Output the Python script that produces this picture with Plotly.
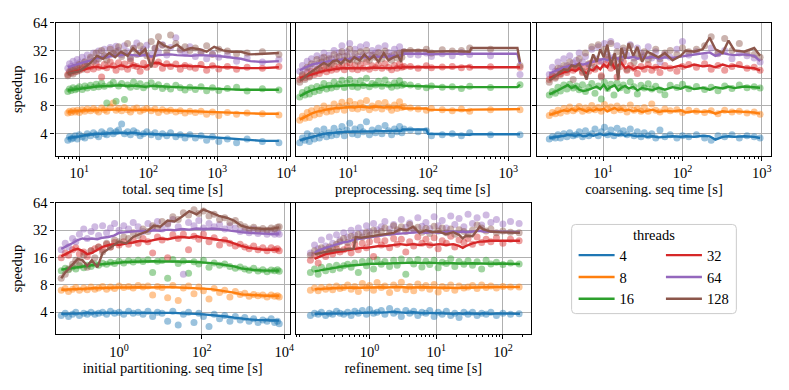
import plotly.graph_objects as go

# ---------------- data ----------------
THREADS = ["4", "8", "16", "32", "64", "128"]
COLORS = ["#1f77b4", "#ff7f0e", "#2ca02c", "#d62728", "#9467bd", "#8c564b"]
Y_TICKS = [4, 8, 16, 32, 64]

# --- total ---
total_x = [6.8, 7.2, 7.6, 8.1, 8.7, 9.3, 10, 11, 12, 13,
           14.5, 16, 17.5, 19, 21, 23, 25, 28, 31, 34,
           37, 41, 45, 50, 55, 61, 68, 76, 85, 95,
           110, 125, 140, 160, 185, 210, 250, 290, 340, 400,
           480, 580, 700, 850, 1050, 1400, 1900, 2700, 4500, 7800]
total_s4 = [3.4, 3.7, 3.5, 3.6, 3.8, 3.5, 3.9, 3.7, 3.6, 4.0,
            3.8, 4.1, 3.9, 3.7, 4.2, 4.0, 3.9, 4.3, 4.0, 4.2,
            4.4, 5.1, 4.0, 4.2, 3.9, 4.3, 4.1, 3.8, 4.0, 4.2,
            3.9, 4.1, 3.7, 4.0, 3.8, 4.1, 3.7, 3.9, 3.6, 3.9,
            3.6, 3.8, 3.4, 3.7, 3.3, 3.5, 3.2, 3.5, 3.3, 3.2]
total_s8 = [6.7, 7.0, 6.8, 7.1, 6.9, 7.2, 6.8, 7.3, 7.0, 7.4,
            7.1, 7.5, 7.2, 6.9, 7.6, 7.3, 7.0, 7.8, 8.6, 7.2,
            7.5, 7.1, 7.7, 7.3, 6.9, 7.4, 7.6, 7.0, 7.3, 7.5,
            7.1, 7.4, 6.8, 7.3, 7.0, 7.2, 6.9, 7.1, 6.7, 7.0,
            6.8, 7.0, 6.5, 6.9, 6.3, 6.8, 6.5, 6.7, 6.6, 6.4]
total_s16 = [11.5, 12.2, 11.8, 12.6, 12.0, 12.4, 12.9, 12.1, 13.2, 12.5,
             13.4, 12.7, 13.8, 12.9, 14.2, 13.1, 8.6, 13.6, 14.5, 9.0,
             13.2, 14.0, 9.4, 13.5, 12.8, 14.6, 13.0, 13.9, 12.6, 13.4,
             14.3, 12.9, 13.6, 12.4, 13.1, 12.2, 13.4, 12.6, 11.9, 12.8,
             12.1, 12.9, 11.7, 12.6, 11.8, 12.4, 12.8, 11.6, 12.3, 11.9]
total_s32 = [17.5, 19.0, 18.2, 20.0, 18.8, 21.0, 19.5, 20.5, 22.0, 19.8,
             21.5, 20.2, 23.0, 21.0, 16.5, 22.5, 20.8, 24.0, 21.8, 19.5,
             23.5, 21.2, 22.8, 20.0, 24.5, 22.0, 21.5, 19.0, 23.2, 21.0,
             25.0, 22.5, 24.0, 20.5, 23.0, 21.5, 22.8, 20.0, 22.0, 21.2,
             20.5, 22.5, 19.5, 21.8, 20.2, 21.5, 20.0, 21.0, 20.5, 21.5]
total_s64 = [20.5, 23.0, 21.5, 24.5, 22.0, 25.5, 23.5, 27.0, 24.5, 28.5,
             26.0, 30.0, 25.0, 31.5, 27.5, 33.0, 28.0, 34.5, 30.0, 35.5,
             32.0, 29.0, 36.0, 31.0, 27.0, 34.0, 38.5, 30.5, 33.0, 36.5,
             29.0, 33.5, 31.0, 37.0, 28.5, 34.5, 44.0, 32.0, 30.0, 35.0,
             27.5, 31.0, 26.0, 29.5, 27.0, 28.5, 24.5, 26.5, 24.0, 25.5]
total_s128 = [17.0, 18.5, 19.5, 17.8, 21.0, 19.0, 22.5, 20.0, 24.0, 22.0,
              27.0, 24.5, 30.0, 26.0, 32.0, 28.0, 25.0, 33.0, 29.5, 31.0,
              35.0, 27.5, 30.5, 38.0, 26.0, 33.5, 29.0, 36.0, 31.5, 28.0,
              40.0, 34.0, 45.0, 36.5, 31.0, 47.0, 38.0, 33.0, 35.0, 32.0,
              34.0, 30.5, 36.0, 29.0, 33.0, 31.5, 29.5, 30.0, 31.0, 29.0]
total_lx = [6.8, 8, 10, 12, 15, 18, 22, 27, 33, 40,
            50, 60, 75, 90, 110, 140, 170, 210, 260, 330,
            420, 550, 700, 900, 1200, 1600, 2200, 3000, 4500, 7800]
total_l4 = [3.6, 3.65, 3.75, 3.85, 3.95, 4.0, 4.0, 4.05, 4.1, 4.1,
            4.05, 4.1, 4.0, 4.0, 3.95, 3.95, 3.9, 3.9, 3.85, 3.85,
            3.8, 3.75, 3.7, 3.6, 3.55, 3.5, 3.45, 3.4, 3.35, 3.35]
total_l8 = [6.9, 7.0, 7.1, 7.2, 7.2, 7.25, 7.3, 7.3, 7.3, 7.35,
            7.3, 7.3, 7.25, 7.3, 7.2, 7.25, 7.2, 7.15, 7.1, 7.1,
            7.05, 7.0, 6.95, 6.9, 6.8, 6.75, 6.7, 6.65, 6.6, 6.6]
total_l16 = [11.8, 12.0, 12.3, 12.5, 12.8, 13.0, 13.1, 13.2, 13.3, 13.4,
             13.2, 13.3, 13.1, 12.9, 13.2, 13.2, 13.0, 12.9, 12.8, 12.6,
             12.6, 12.5, 12.4, 12.3, 12.2, 12.1, 12.0, 12.0, 12.0, 12.0]
total_l32 = [18.0, 18.5, 19.5, 20.0, 21.0, 21.2, 20.5, 21.5, 21.0, 22.0,
             21.0, 22.2, 21.5, 21.0, 23.0, 23.5, 22.0, 22.2, 21.5, 22.0,
             21.5, 21.6, 21.0, 21.5, 21.0, 21.0, 20.6, 20.6, 20.6, 21.0]
total_l64 = [21.0, 22.0, 23.0, 24.0, 25.0, 26.5, 27.0, 28.0, 28.0, 28.5,
             29.0, 28.5, 28.0, 28.5, 27.5, 28.5, 29.0, 29.0, 28.5, 28.0,
             28.0, 28.5, 28.0, 28.0, 27.5, 27.0, 26.0, 24.5, 24.0, 24.5]
total_l128 = [18.0, 18.5, 19.0, 21.0, 24.0, 28.0, 26.0, 30.0, 27.0, 31.0,
              28.0, 34.0, 29.0, 33.0, 21.0, 40.0, 36.0, 34.0, 37.0, 32.0,
              34.0, 33.0, 31.0, 35.0, 32.0, 31.0, 31.0, 29.0, 29.5, 30.0]

# --- preprocessing ---
prep_x = [2.5, 2.7, 2.9, 3.1, 3.3, 3.5, 3.8, 4.1, 4.4, 4.7,
          5.0, 5.4, 5.8, 6.2, 6.7, 7.2, 7.8, 8.4, 9.0, 9.7,
          10.5, 11.3, 12.2, 13.2, 14.3, 15.5, 17, 18.5, 20, 22,
          24, 26.5, 29, 32, 35, 38, 41, 44, 47, 50,
          60, 75, 95, 110, 150, 200, 260, 330, 600, 1400]
prep_s4 = [3.2, 3.6, 3.4, 4.0, 3.3, 3.8, 3.5, 4.3, 3.6, 3.9,
           4.5, 3.7, 4.1, 3.8, 4.6, 3.9, 4.2, 4.8, 3.8, 4.4,
           5.2, 4.0, 4.5, 3.9, 4.7, 4.2, 5.4, 3.9, 4.4, 4.1,
           4.6, 4.0, 4.9, 4.3, 3.9, 4.5, 4.2, 4.8, 4.1, 4.5,
           4.4, 4.2, 4.3, 3.8, 3.9, 4.0, 3.8, 4.1, 3.9, 3.9]
prep_s8 = [5.6, 6.2, 5.9, 6.8, 6.0, 7.1, 6.4, 7.5, 6.6, 7.2,
           8.0, 6.9, 7.6, 7.0, 8.4, 7.3, 7.9, 8.8, 7.2, 8.1,
           9.0, 7.5, 8.3, 7.4, 8.6, 7.7, 9.2, 7.3, 8.0, 7.6,
           8.5, 7.4, 8.7, 7.8, 7.2, 8.2, 7.5, 8.9, 7.7, 7.9,
           7.6, 7.4, 7.2, 7.5, 7.3, 7.1, 7.4, 7.0, 7.3, 7.3]
prep_s16 = [10.0, 11.2, 10.5, 12.0, 10.8, 12.5, 11.4, 13.0, 11.8, 12.6,
            14.0, 12.2, 13.4, 12.5, 14.6, 12.9, 13.8, 15.2, 12.7, 14.2,
            15.5, 13.0, 14.4, 12.8, 15.0, 13.3, 16.0, 12.9, 14.0, 13.5,
            14.8, 13.1, 15.3, 13.6, 12.8, 14.3, 13.2, 15.0, 13.4, 13.8,
            13.5, 13.0, 12.6, 13.2, 12.8, 12.9, 12.4, 13.1, 12.7, 13.6]
prep_s32 = [15.5, 17.0, 16.2, 18.5, 16.8, 19.0, 17.5, 20.0, 18.0, 19.5,
            21.5, 18.8, 20.5, 19.5, 22.0, 20.0, 21.0, 23.0, 19.8, 21.5,
            23.5, 20.2, 22.0, 19.8, 22.5, 20.5, 24.0, 20.0, 21.8, 20.8,
            22.5, 20.5, 23.0, 21.0, 19.8, 22.0, 20.5, 22.8, 21.0, 21.5,
            21.5, 20.5, 21.8, 20.8, 21.2, 21.5, 20.8, 21.0, 21.3, 21.0]
prep_s64 = [19.0, 22.0, 20.0, 24.5, 21.0, 26.0, 22.5, 28.0, 23.5, 26.5,
            30.0, 25.0, 28.5, 26.0, 32.0, 27.0, 30.5, 36.0, 27.5, 31.0,
            38.0, 28.0, 33.0, 27.5, 35.0, 29.0, 37.0, 28.5, 32.0, 30.0,
            34.0, 29.0, 36.0, 30.5, 28.0, 33.0, 29.5, 35.0, 30.0, 31.0,
            29.0, 28.5, 30.0, 27.5, 29.5, 28.0, 30.5, 29.0, 28.0, 17.5]
prep_s128 = [14.5, 17.5, 15.5, 21.0, 16.5, 23.0, 18.5, 25.5, 20.0, 24.0,
             27.0, 22.0, 26.0, 23.0, 29.0, 24.5, 27.5, 31.0, 25.0, 28.0,
             33.0, 25.5, 29.5, 24.5, 31.0, 26.0, 32.0, 25.0, 28.5, 27.0,
             30.5, 26.0, 31.5, 27.5, 25.0, 29.0, 26.5, 30.0, 27.0, 31.0,
             32.0, 31.0, 33.0, 30.0, 32.5, 31.5, 32.0, 34.0, 33.0, 22.0]
prep_lx = [2.5, 2.8, 3.1, 3.5, 4.0, 4.5, 5.0, 5.7, 6.5, 7.3,
           8.2, 9.2, 10.5, 12, 14, 16, 18.5, 21, 24, 28,
           32, 37, 42, 46, 48, 95, 100, 200, 330, 345, 1300, 1400]
prep_l4 = [3.4, 3.5, 3.6, 3.7, 3.8, 3.9, 4.0, 4.05, 4.1, 4.15,
           4.2, 4.2, 4.2, 4.2, 4.2, 4.25, 4.2, 4.25, 4.3, 4.25,
           4.3, 4.3, 4.35, 4.3, 4.45, 4.45, 4.0, 3.9, 3.9, 3.95, 3.95, 3.95]
prep_l8 = [5.7, 6.0, 6.3, 6.6, 6.9, 7.1, 7.3, 7.4, 7.5, 7.6,
           7.7, 7.8, 7.8, 7.7, 7.9, 7.8, 7.7, 7.9, 7.8, 7.7,
           7.8, 7.7, 7.8, 7.7, 7.5, 7.5, 7.3, 7.2, 7.2, 7.3, 7.3, 7.4]
prep_l16 = [10.2, 10.8, 11.3, 11.8, 12.2, 12.5, 12.8, 13.0, 13.1, 13.2,
            13.3, 13.4, 13.3, 13.5, 13.4, 13.6, 13.3, 13.5, 13.4, 13.5,
            13.3, 13.5, 13.4, 13.6, 13.3, 13.2, 13.0, 12.8, 12.7, 12.8, 12.8, 13.6]
prep_l32 = [16.0, 16.5, 17.0, 17.6, 18.2, 18.8, 19.2, 19.6, 20.0, 20.2,
            20.5, 20.5, 20.6, 20.4, 20.8, 20.6, 20.5, 20.9, 20.7, 20.6,
            20.8, 20.6, 21.0, 20.7, 21.2, 21.2, 21.4, 21.0, 21.5, 21.0, 21.0, 21.0]
prep_l64 = [19.5, 20.5, 21.5, 22.5, 23.0, 23.5, 24.0, 24.5, 25.0, 25.0,
            25.5, 25.5, 26.0, 26.5, 27.0, 27.0, 27.0, 27.5, 27.5, 27.0,
            27.5, 28.0, 27.5, 28.0, 29.5, 29.5, 29.0, 29.5, 29.5, 29.5, 29.5, 23.0]
prep_l128 = [15.0, 16.0, 17.5, 19.0, 20.5, 22.0, 23.5, 22.0, 24.5, 25.0,
             23.0, 26.0, 24.0, 27.0, 25.0, 29.0, 25.5, 28.0, 24.0, 30.0,
             25.0, 27.0, 28.0, 24.0, 32.0, 32.0, 31.0, 31.5, 31.0, 34.0, 34.0, 24.0]

# --- coarsening ---
coar_x = [2.1, 2.3, 2.5, 2.7, 2.9, 3.2, 3.5, 3.8, 4.2, 4.6,
          5.0, 5.5, 6.0, 6.6, 7.2, 7.9, 8.7, 9.5, 10.4, 11.4,
          12.5, 13.7, 15, 16.5, 18, 20, 22, 24.5, 27, 30,
          33, 37, 41, 46, 52, 60, 70, 85, 100, 120,
          150, 190, 230, 280, 340, 420, 520, 650, 800, 950]
coar_s4 = [3.5, 3.7, 3.6, 3.9, 3.6, 4.0, 3.7, 4.1, 3.8, 3.9,
           4.2, 3.7, 4.3, 3.8, 4.0, 4.5, 3.8, 4.2, 4.7, 3.9,
           4.4, 3.8, 4.6, 4.0, 4.3, 3.9, 4.5, 3.8, 4.2, 3.7,
           4.1, 3.8, 4.0, 3.6, 4.4, 3.7, 3.9, 3.6, 3.8, 3.7,
           3.9, 3.6, 3.4, 3.8, 3.7, 3.9, 3.6, 3.8, 3.7, 3.6]
coar_s8 = [6.3, 6.8, 6.6, 7.2, 6.7, 7.5, 7.0, 7.8, 7.1, 7.4,
           7.9, 7.0, 7.6, 7.2, 8.1, 7.3, 7.7, 7.0, 8.3, 7.4,
           7.8, 7.1, 8.0, 7.3, 7.6, 6.9, 8.2, 7.2, 7.5, 7.0,
           7.7, 7.0, 8.4, 7.2, 6.9, 7.4, 7.1, 7.3, 6.8, 7.2,
           7.0, 6.8, 7.1, 6.6, 7.2, 6.9, 7.0, 6.7, 6.9, 6.5]
coar_s16 = [10.5, 11.5, 11.0, 12.8, 11.6, 13.5, 12.2, 13.8, 12.5, 13.2,
            12.0, 13.6, 11.5, 12.8, 14.0, 11.0, 13.2, 9.5, 14.5, 12.4,
            13.8, 10.5, 14.2, 12.6, 13.5, 11.8, 14.6, 12.9, 10.8, 13.4,
            12.5, 13.9, 12.2, 13.1, 11.9, 10.6, 13.4, 12.7, 13.8, 12.3,
            13.0, 12.1, 12.8, 11.7, 13.2, 12.4, 13.5, 12.6, 12.9, 12.5]
coar_s32 = [15.5, 17.0, 16.5, 19.0, 17.5, 20.0, 18.5, 21.0, 19.5, 20.5,
            22.0, 18.5, 21.5, 19.0, 23.5, 20.0, 24.5, 17.0, 22.5, 25.5,
            20.5, 23.0, 16.5, 21.5, 24.0, 19.5, 22.0, 20.5, 18.0, 21.5,
            20.0, 22.5, 19.5, 21.0, 18.5, 22.0, 20.5, 19.0, 21.5, 22.5,
            21.0, 23.0, 20.0, 22.0, 19.5, 21.5, 22.5, 20.5, 21.0, 19.5]
coar_s64 = [17.5, 21.0, 19.0, 24.0, 20.5, 26.0, 22.0, 28.0, 23.5, 25.0,
            30.0, 24.0, 27.5, 22.5, 33.0, 26.0, 35.0, 24.5, 38.0, 29.0,
            40.0, 27.0, 36.0, 25.0, 32.0, 28.5, 37.0, 26.5, 34.0, 30.0,
            28.0, 35.0, 26.5, 31.0, 24.0, 29.0, 27.0, 33.0, 40.0, 28.5,
            31.0, 27.5, 34.0, 29.5, 32.0, 26.0, 30.0, 28.0, 26.5, 24.0]
coar_s128 = [14.5, 17.0, 16.0, 20.5, 18.0, 22.0, 19.5, 24.0, 15.5, 21.0,
             26.0, 19.0, 30.0, 23.0, 35.0, 21.0, 37.0, 16.5, 33.0, 27.0,
             38.0, 22.0, 31.0, 26.0, 34.0, 20.0, 36.0, 24.0, 29.0, 27.0,
             31.0, 25.5, 28.0, 33.0, 26.0, 30.0, 32.0, 29.0, 34.0, 31.0,
             33.0, 36.0, 45.0, 30.0, 43.0, 32.0, 38.0, 30.0, 29.0, 27.0]
coar_lx = [2.1, 2.4, 2.8, 3.2, 3.6, 4.0, 4.5, 5.0, 5.6, 6.2,
           6.8, 7.5, 8.3, 9.2, 10.2, 11.3, 12.5, 14, 15.5, 17,
           19, 21, 24, 27, 31, 36, 42, 50, 60, 75,
           95, 110, 140, 180, 220, 260, 320, 380, 450, 600, 800, 950]
coar_l4 = [3.6, 3.65, 3.7, 3.8, 3.9, 3.85, 3.8, 3.9, 3.75, 3.8,
           3.95, 3.8, 3.9, 4.0, 3.85, 3.95, 4.0, 3.9, 3.85, 3.95,
           3.8, 3.9, 3.85, 3.75, 3.8, 3.7, 3.75, 3.65, 3.7, 3.75,
           3.7, 3.75, 3.7, 3.8, 3.75, 3.45, 3.7, 3.75, 3.7, 3.75, 3.7, 3.6]
coar_l8 = [6.4, 6.6, 6.9, 7.2, 7.0, 7.4, 7.1, 7.5, 7.2, 7.0,
           7.3, 7.1, 7.4, 7.2, 7.5, 7.0, 7.3, 7.6, 7.2, 7.4,
           7.1, 7.3, 7.0, 7.2, 6.9, 7.1, 7.3, 6.9, 7.1, 7.0,
           7.2, 6.8, 7.0, 6.9, 7.0, 6.6, 7.0, 6.9, 7.0, 6.9, 6.8, 6.6]
coar_l16 = [10.7, 11.2, 12.0, 12.8, 13.5, 12.5, 13.2, 12.0, 11.6, 11.8,
            12.2, 12.6, 13.0, 12.2, 13.6, 12.0, 12.8, 13.4, 11.8, 12.6,
            13.2, 12.4, 12.9, 11.8, 12.5, 12.2, 11.9, 12.6, 12.0, 12.8,
            12.3, 13.0, 12.2, 12.6, 12.0, 12.8, 12.4, 13.0, 12.5, 13.0, 12.8, 12.6]
coar_l32 = [16.0, 16.8, 17.5, 18.5, 19.0, 19.8, 19.2, 20.5, 19.0, 18.0,
            20.0, 19.5, 21.5, 20.0, 22.5, 21.0, 25.0, 20.5, 22.0, 23.5,
            20.5, 21.5, 20.0, 21.0, 20.5, 21.5, 20.8, 21.2, 20.5, 21.0,
            22.0, 21.0, 22.5, 21.5, 22.0, 21.0, 22.5, 21.5, 22.0, 21.0, 20.5, 19.5]
coar_l64 = [18.0, 19.0, 20.0, 21.0, 21.5, 22.0, 22.5, 23.0, 22.5, 23.0,
            23.5, 24.0, 24.5, 25.0, 26.0, 25.0, 26.5, 27.0, 26.0, 27.5,
            27.0, 26.5, 27.5, 26.0, 27.0, 26.5, 27.5, 26.0, 27.0, 26.5,
            27.5, 28.0, 29.0, 30.0, 30.5, 28.0, 30.0, 29.0, 28.5, 29.0, 28.0, 24.5]
coar_l128 = [15.0, 16.5, 18.0, 20.0, 19.5, 22.0, 21.5, 23.0, 19.0, 15.5,
             22.0, 29.0, 24.0, 33.0, 27.0, 37.0, 22.0, 30.0, 15.5, 34.0,
             26.0, 38.0, 28.0, 35.0, 24.0, 31.0, 29.0, 27.0, 30.0, 25.0,
             28.0, 32.0, 31.0, 33.0, 44.0, 33.0, 30.0, 41.0, 32.0, 31.0, 34.0, 28.0]

# --- initial partitioning ---
ip_x = [0.04, 0.05, 0.06, 0.075, 0.09, 0.11, 0.14, 0.17, 0.21, 0.26,
        0.32, 0.4, 0.5, 0.62, 0.78, 1.0, 1.3, 1.7, 2.2, 2.9,
        3.8, 5, 6.5, 8.5, 11, 15, 20, 27, 36, 48,
        65, 85, 110, 150, 200, 270, 360, 480, 650, 850,
        1100, 1400, 1800, 2300, 3000, 3800, 4800, 5800, 6800, 7500]
ip_s4 = [3.7, 3.9, 3.6, 3.8, 4.0, 3.7, 3.9, 3.8, 4.0, 3.8,
         3.9, 4.0, 3.8, 4.1, 3.9, 4.0, 3.8, 4.1, 3.9, 4.0,
         3.8, 4.1, 3.6, 4.0, 3.9, 3.2, 4.1, 2.9, 3.8, 4.0,
         3.1, 3.9, 3.6, 2.8, 3.8, 3.4, 3.7, 3.2, 3.6, 3.3,
         3.5, 3.2, 3.4, 3.1, 3.3, 3.2, 3.4, 3.1, 3.2, 3.0]
ip_s8 = [7.0, 7.3, 6.8, 7.2, 7.5, 7.0, 7.4, 7.1, 7.6, 7.2,
         7.4, 7.7, 7.2, 7.6, 7.3, 7.8, 7.5, 7.7, 7.4, 7.9,
         7.6, 7.8, 6.2, 7.7, 7.5, 5.8, 7.9, 5.4, 7.4, 7.8,
         6.4, 7.6, 6.9, 5.6, 7.3, 6.6, 7.0, 5.9, 6.8, 6.3,
         6.5, 6.0, 6.3, 6.1, 6.2, 5.9, 6.2, 6.0, 6.1, 5.9]
ip_s16 = [11.5, 12.2, 11.8, 12.6, 12.0, 13.0, 12.4, 13.2, 12.8, 13.6,
          13.2, 13.9, 13.5, 14.2, 13.8, 14.6, 14.0, 14.8, 14.3, 15.0,
          14.5, 15.2, 11.0, 14.6, 14.9, 9.5, 15.3, 13.8, 14.7, 10.8,
          14.4, 13.6, 15.0, 12.5, 14.0, 13.2, 13.6, 12.8, 12.2, 12.6,
          12.0, 11.6, 12.2, 11.4, 11.8, 11.2, 11.7, 11.5, 11.8, 11.3]
ip_s32 = [16.0, 18.0, 17.0, 19.5, 20.5, 17.5, 18.5, 16.5, 19.0, 20.0,
          21.0, 19.5, 22.5, 21.0, 23.5, 22.0, 24.0, 22.5, 25.0, 23.0,
          26.0, 24.0, 18.0, 27.0, 25.0, 16.0, 28.5, 26.0, 29.0, 19.5,
          27.5, 25.5, 29.0, 24.0, 26.5, 22.0, 25.0, 23.0, 21.5, 22.5,
          21.0, 20.0, 21.5, 19.5, 20.5, 19.0, 20.5, 19.5, 20.0, 19.0]
ip_s64 = [19.5, 23.0, 21.0, 26.0, 24.0, 29.0, 33.0, 26.0, 31.0, 35.0,
          28.0, 36.0, 30.0, 34.0, 38.0, 32.0, 36.0, 33.0, 39.0, 35.0,
          31.0, 38.0, 34.0, 40.0, 33.0, 37.0, 42.0, 35.0, 10.5, 39.0,
          36.0, 41.0, 34.0, 38.0, 35.0, 37.0, 33.0, 36.0, 34.0, 31.0,
          32.0, 30.0, 33.0, 29.5, 31.0, 29.0, 30.5, 29.0, 30.0, 29.0]
ip_s128 = [9.5, 10.5, 12.0, 13.5, 15.0, 14.0, 17.0, 12.5, 19.0, 16.0,
           21.0, 18.5, 23.0, 21.0, 25.0, 24.0, 27.0, 26.0, 30.0, 28.0,
           33.0, 31.0, 36.0, 34.0, 40.0, 38.0, 45.0, 42.0, 50.0, 47.0,
           54.0, 49.0, 52.0, 46.0, 48.0, 42.0, 44.0, 39.0, 41.0, 37.0,
           35.0, 33.0, 34.5, 32.5, 33.5, 32.0, 34.0, 33.0, 34.5, 35.0]
ip_lx = [0.04, 0.05, 0.065, 0.08, 0.1, 0.13, 0.17, 0.22, 0.3, 0.4,
         0.55, 0.75, 1.0, 1.5, 2.2, 3.2, 4.7, 7, 10, 15,
         22, 33, 50, 75, 110, 170, 260, 400, 600, 900, 1400, 2200, 3500, 5500, 7500]
ip_l4 = [3.85, 3.85, 3.9, 3.9, 3.9, 3.9, 3.95, 3.9, 3.95, 3.95,
         3.95, 4.0, 3.95, 4.0, 4.0, 4.0, 3.95, 4.0, 4.0, 3.95,
         3.95, 3.9, 3.9, 3.85, 3.8, 3.75, 3.7, 3.6, 3.5, 3.4, 3.35, 3.3, 3.25, 3.25, 3.25]
ip_l8 = [7.1, 7.15, 7.2, 7.2, 7.25, 7.3, 7.3, 7.35, 7.4, 7.4,
         7.4, 7.45, 7.5, 7.5, 7.55, 7.55, 7.5, 7.6, 7.55, 7.6,
         7.55, 7.5, 7.5, 7.45, 7.3, 7.2, 7.0, 6.8, 6.6, 6.3, 6.2, 6.15, 6.1, 6.1, 6.1]
ip_l16 = [11.8, 12.0, 12.2, 12.4, 12.6, 12.8, 13.0, 13.2, 13.4, 13.6,
          13.8, 14.0, 14.2, 14.3, 14.4, 14.5, 14.5, 14.6, 14.5, 14.6,
          14.5, 14.4, 14.5, 14.3, 14.2, 13.9, 13.6, 13.2, 12.8, 12.2, 11.8, 11.6, 11.5, 11.5, 11.5]
ip_l32 = [16.5, 17.5, 18.5, 19.5, 20.0, 19.0, 17.5, 18.0, 19.5, 21.0,
          22.0, 22.5, 22.0, 23.0, 23.5, 24.5, 24.0, 25.0, 26.0, 25.5,
          26.5, 27.0, 26.5, 27.5, 26.5, 26.0, 25.0, 24.5, 23.0, 21.5, 20.5, 20.0, 19.5, 19.5, 19.8]
ip_l64 = [20.0, 21.0, 22.0, 23.5, 25.0, 26.0, 25.5, 26.0, 25.5, 26.5,
          27.0, 28.0, 30.0, 30.5, 31.0, 31.5, 31.0, 32.0, 31.5, 32.5,
          32.0, 33.0, 32.5, 33.5, 33.0, 33.5, 33.0, 32.0, 31.5, 30.5, 30.0, 29.5, 29.0, 29.0, 29.5]
ip_l128 = [9.5, 11.0, 12.5, 14.0, 15.5, 15.0, 13.0, 15.0, 12.5, 18.0,
           20.0, 22.0, 24.0, 23.0, 27.0, 29.0, 31.0, 36.0, 35.0, 41.0,
           40.0, 45.0, 52.0, 48.0, 54.0, 50.0, 46.0, 44.0, 41.0, 36.0, 34.0, 33.5, 33.0, 33.5, 34.5]

# --- refinement ---
ref_x = [0.13, 0.15, 0.17, 0.19, 0.22, 0.25, 0.28, 0.32, 0.36, 0.41,
         0.47, 0.53, 0.6, 0.68, 0.78, 0.9, 1.0, 1.15, 1.3, 1.5,
         1.7, 2.0, 2.3, 2.6, 3.0, 3.5, 4.0, 4.6, 5.3, 6.1,
         7.0, 8.0, 9.3, 10.7, 12.3, 14.2, 16.5, 19, 22, 26,
         30, 35, 41, 48, 56, 66, 80, 100, 130, 175]
ref_s4 = [3.7, 3.9, 3.8, 4.0, 3.7, 3.9, 3.8, 4.1, 3.9, 3.8,
          4.0, 3.7, 4.1, 3.9, 4.2, 3.8, 4.3, 3.9, 4.0, 4.2,
          3.8, 4.4, 3.9, 4.1, 3.6, 4.2, 3.9, 4.1, 3.7, 4.0,
          3.9, 4.2, 3.6, 4.0, 3.8, 4.1, 3.7, 3.9, 3.5, 4.0,
          3.8, 4.0, 3.7, 3.9, 3.8, 4.0, 3.7, 3.9, 3.8, 3.85]
ref_s8 = [7.0, 7.4, 6.9, 7.5, 7.2, 7.6, 7.1, 7.8, 7.3, 7.5,
          8.0, 7.2, 7.7, 6.8, 8.3, 7.4, 7.9, 7.0, 8.5, 7.5,
          7.8, 6.6, 8.0, 7.3, 8.6, 7.1, 7.7, 6.9, 8.2, 7.4,
          7.9, 7.2, 8.1, 6.7, 7.7, 7.3, 8.0, 7.0, 7.8, 7.4,
          7.6, 7.9, 7.3, 8.0, 7.5, 7.8, 7.4, 7.7, 7.6, 7.6]
ref_s16 = [11.0, 12.0, 10.5, 12.5, 11.5, 12.8, 11.8, 13.2, 12.2, 13.0,
           13.5, 12.5, 14.0, 11.0, 14.5, 13.0, 14.8, 12.0, 15.2, 13.5,
           14.5, 12.8, 15.0, 13.2, 15.5, 10.5, 14.8, 13.6, 15.3, 12.6,
           14.6, 13.4, 15.0, 12.4, 14.2, 13.8, 15.6, 12.8, 14.5, 13.5,
           14.8, 13.2, 14.4, 12.0, 15.0, 13.6, 14.2, 13.4, 14.0, 13.6]
ref_s32 = [15.0, 17.0, 14.0, 18.0, 16.5, 19.0, 17.5, 20.0, 18.5, 19.5,
           21.0, 18.0, 22.5, 19.5, 23.0, 20.5, 24.0, 16.5, 25.0, 22.0,
           24.5, 20.5, 26.0, 22.5, 25.5, 18.5, 24.0, 21.5, 27.0, 23.0,
           25.5, 22.0, 26.5, 20.0, 24.5, 23.0, 27.5, 21.0, 25.0, 23.5,
           26.0, 22.5, 27.0, 23.5, 25.5, 24.0, 26.5, 23.0, 25.5, 24.5]
ref_s64 = [18.0, 22.0, 20.0, 25.0, 21.5, 27.0, 23.0, 28.5, 25.0, 30.0,
           27.0, 32.0, 28.5, 34.0, 30.0, 36.0, 31.0, 38.0, 32.5, 35.0,
           40.0, 33.0, 37.0, 31.5, 42.0, 34.5, 38.5, 32.0, 44.0, 35.5,
           39.0, 33.5, 45.0, 36.0, 41.0, 34.0, 46.0, 37.0, 43.0, 35.0,
           48.0, 38.0, 44.0, 36.5, 47.0, 39.0, 42.0, 37.5, 40.0, 38.0]
ref_s128 = [17.0, 19.0, 18.0, 20.5, 19.5, 21.0, 20.0, 22.5, 24.0, 26.0,
            23.5, 27.5, 25.0, 29.0, 27.0, 30.5, 28.0, 32.0, 29.5, 31.0,
            34.0, 30.0, 36.0, 32.5, 35.0, 31.0, 37.0, 33.0, 34.5, 30.5,
            33.5, 29.5, 35.5, 31.5, 34.0, 30.0, 33.0, 29.0, 32.5, 31.0,
            28.5, 32.0, 36.5, 34.0, 31.5, 33.0, 30.0, 31.5, 30.5, 30.0]
ref_lx = [0.15, 0.18, 0.22, 0.27, 0.33, 0.4, 0.48, 0.58, 0.62, 0.75,
          0.9, 1.1, 1.4, 1.8, 2.3, 2.9, 3.6, 4.5, 5.6, 7,
          8.8, 11, 14, 18, 22, 25, 28, 35, 45, 50, 65, 90, 130, 180]
ref_l4 = [3.85, 3.85, 3.9, 3.85, 3.9, 3.9, 3.9, 3.95, 3.9, 3.95,
          3.95, 4.0, 3.95, 4.0, 4.05, 4.0, 3.95, 4.0, 3.95, 3.9,
          3.95, 3.9, 3.9, 3.85, 3.9, 3.85, 3.9, 3.85, 3.85, 3.9, 3.85, 3.9, 3.85, 3.85]
ref_l8 = [7.2, 7.3, 7.3, 7.35, 7.4, 7.4, 7.45, 7.4, 7.5, 7.45,
          7.5, 7.5, 7.55, 7.5, 7.55, 7.6, 7.5, 7.55, 7.5, 7.55,
          7.5, 7.45, 7.5, 7.45, 7.4, 7.5, 7.45, 7.5, 7.55, 7.5, 7.55, 7.6, 7.6, 7.6]
ref_l16 = [11.3, 11.6, 11.9, 12.2, 12.5, 12.8, 13.0, 13.2, 13.3, 13.5,
           13.6, 13.7, 13.7, 13.8, 13.9, 14.0, 14.0, 14.1, 14.0, 14.1,
           14.0, 13.9, 14.0, 13.9, 13.8, 13.7, 13.8, 13.9, 13.8, 13.9, 13.7, 13.8, 13.6, 13.6]
ref_l32 = [15.5, 16.5, 17.5, 18.0, 18.5, 19.0, 19.5, 20.0, 20.0, 20.5,
           20.5, 21.0, 21.5, 21.5, 22.0, 22.5, 22.0, 22.5, 22.0, 22.5,
           22.0, 22.5, 22.0, 22.5, 21.5, 20.5, 21.5, 23.0, 24.0, 24.0, 24.5, 24.5, 24.5, 24.5]
ref_l64 = [18.0, 19.5, 20.5, 21.5, 22.5, 23.5, 24.0, 25.0, 25.5, 26.0,
           26.5, 27.5, 28.0, 28.5, 29.0, 29.5, 30.0, 30.0, 30.5, 30.0,
           30.5, 30.0, 30.5, 31.0, 30.5, 31.0, 30.5, 31.0, 31.5, 31.0, 31.0, 31.0, 30.5, 30.5]
ref_l128 = [17.5, 18.0, 18.5, 19.0, 19.5, 19.5, 20.0, 20.0, 27.0, 26.5,
            27.0, 28.0, 28.5, 29.5, 30.0, 33.0, 32.0, 35.0, 30.0, 32.0,
            30.5, 31.0, 29.0, 30.5, 28.5, 26.0, 28.0, 27.5, 35.0, 33.0, 31.0, 30.5, 30.0, 30.0]

X_TITLES = ["total. seq time [s]", "preprocessing. seq time [s]",
            "coarsening. seq time [s]", "initial partitioning. seq time [s]",
            "refinement. seq time [s]"]

# ---------------- assemble ----------------
panels = [
    (total_x, [total_s4, total_s8, total_s16, total_s32, total_s64, total_s128],
     total_lx, [total_l4, total_l8, total_l16, total_l32, total_l64, total_l128]),
    (prep_x, [prep_s4, prep_s8, prep_s16, prep_s32, prep_s64, prep_s128],
     prep_lx, [prep_l4, prep_l8, prep_l16, prep_l32, prep_l64, prep_l128]),
    (coar_x, [coar_s4, coar_s8, coar_s16, coar_s32, coar_s64, coar_s128],
     coar_lx, [coar_l4, coar_l8, coar_l16, coar_l32, coar_l64, coar_l128]),
    (ip_x, [ip_s4, ip_s8, ip_s16, ip_s32, ip_s64, ip_s128],
     ip_lx, [ip_l4, ip_l8, ip_l16, ip_l32, ip_l64, ip_l128]),
    (ref_x, [ref_s4, ref_s8, ref_s16, ref_s32, ref_s64, ref_s128],
     ref_lx, [ref_l4, ref_l8, ref_l16, ref_l32, ref_l64, ref_l128]),
]

W, H = 789, 390
FONT = "Liberation Serif, DejaVu Serif, serif"
FS = 14.5
# panel boxes in pixels: (left, right, top, bottom)
BOXES = [(56, 292, 15, 151), (298, 534, 15, 151), (541, 777, 15, 151),
         (56, 292, 199, 333), (298, 535, 199, 333)]
XRANGES = [(0.655, 4.05), (0.348, 3.27), (0.166, 3.116), (-1.535, 4.13), (-1.106, 2.42)]
XMAJOR = [[1, 2, 3, 4], [1, 2, 3], [1, 2, 3], [0, 2, 4], [0, 1, 2]]
XMINOR = [True, True, True, False, True]
YRANGE = [0.3617, 1.8062]

fig = go.Figure()

# scatter clouds first
for p, (sx, sys_, lx, lys) in enumerate(panels):
    ax = "" if p == 0 else str(p + 1)
    for k in range(6):
        n = min(len(sx), len(sys_[k]))
        fig.add_trace(go.Scatter(
            x=sx[:n], y=sys_[k][:n], mode="markers",
            marker=dict(color=COLORS[k], size=7, opacity=0.45, line=dict(width=0)),
            xaxis="x" + ax, yaxis="y" + ax, showlegend=False, hoverinfo="skip"))

# lines on top
for p, (sx, sys_, lx, lys) in enumerate(panels):
    ax = "" if p == 0 else str(p + 1)
    for k in range(6):
        n = min(len(lx), len(lys[k]))
        fig.add_trace(go.Scatter(
            x=lx[:n], y=lys[k][:n], mode="lines",
            line=dict(color=COLORS[k], width=2.4),
            name=THREADS[k], xaxis="x" + ax, yaxis="y" + ax,
            showlegend=(p == 0), legendgroup="g" + THREADS[k],
            legend="legend" if k < 3 else "legend2"))

layout = dict(width=W, height=H, margin=dict(l=0, r=0, t=0, b=0),
              paper_bgcolor="white", plot_bgcolor="white",
              font=dict(family=FONT, size=FS, color="black"))

for p in range(5):
    l, r, t, b = BOXES[p]
    ax = "" if p == 0 else str(p + 1)
    majors = XMAJOR[p]
    minor_vals = []
    if XMINOR[p]:
        for d in range(int(XRANGES[p][0]) - 2, int(XRANGES[p][1]) + 2):
            for m in range(2, 10):
                minor_vals.append(m * 10.0 ** d)
    xdict = dict(
        type="log", range=list(XRANGES[p]), domain=[l / W, r / W],
        anchor="y" + ax,
        tickvals=[10.0 ** e for e in majors],
        ticktext=["10<sup>%d</sup>" % e for e in majors],
        ticks="outside", ticklen=4, tickwidth=1, tickcolor="black",
        showline=True, mirror=True, linecolor="black", linewidth=1.2,
        showgrid=True, gridcolor="#b0b0b0", gridwidth=1,
        tickfont=dict(family=FONT, size=FS),
        title=dict(text=X_TITLES[p], standoff=3, font=dict(family=FONT, size=FS)))
    if minor_vals:
        xdict["minor"] = dict(tickvals=minor_vals, ticks="outside", ticklen=2,
                              tickcolor="black", tickwidth=0.8, showgrid=False)
    layout["xaxis" + ax] = xdict
    ydict = dict(
        type="log", range=YRANGE, domain=[1 - b / H, 1 - t / H],
        anchor="x" + ax,
        tickvals=Y_TICKS, ticktext=[str(v) for v in Y_TICKS],
        ticks="outside", ticklen=4, tickwidth=1, tickcolor="black",
        showline=True, mirror=True, linecolor="black", linewidth=1.2,
        showgrid=True, gridcolor="#b0b0b0", gridwidth=1,
        showticklabels=(p in (0, 3)), tickfont=dict(family=FONT, size=FS))
    if p in (0, 3):
        ydict["title"] = dict(text="speedup", standoff=6, font=dict(family=FONT, size=FS))
    layout["yaxis" + ax] = ydict

legend_common = dict(bgcolor="rgba(0,0,0,0)", borderwidth=0,
                     font=dict(family=FONT, size=FS),
                     xanchor="left", yanchor="top", tracegroupgap=0,
                     itemwidth=36)
layout["legend"] = dict(x=578 / W, y=1 - 236 / H, **legend_common)
layout["legend2"] = dict(x=666 / W, y=1 - 236 / H, **legend_common)

# legend frame and title
bx0, bx1, by0, by1, rad = 576, 742, 221, 312, 4
def px(xv):
    return xv / W
def py(yv):
    return 1 - yv / H
path = ("M %f,%f L %f,%f Q %f,%f %f,%f L %f,%f Q %f,%f %f,%f L %f,%f Q %f,%f %f,%f "
        "L %f,%f Q %f,%f %f,%f Z") % (
    px(bx0 + rad), py(by0), px(bx1 - rad), py(by0), px(bx1), py(by0), px(bx1), py(by0 + rad),
    px(bx1), py(by1 - rad), px(bx1), py(by1), px(bx1 - rad), py(by1),
    px(bx0 + rad), py(by1), px(bx0), py(by1), px(bx0), py(by1 - rad),
    px(bx0), py(by0 + rad), px(bx0), py(by0), px(bx0 + rad), py(by0))
layout["shapes"] = [dict(type="path", xref="paper", yref="paper", path=path,
                         line=dict(color="#cccccc", width=1), fillcolor="rgba(255,255,255,0.8)",
                         layer="below")]
layout["annotations"] = [dict(text="threads", x=(bx0 + bx1) / 2 / W, y=1 - 232 / H,
                              xref="paper", yref="paper", showarrow=False,
                              xanchor="center", yanchor="middle",
                              font=dict(family=FONT, size=FS))]

fig.update_layout(**layout)
fig.write_html("out.html", config={"displayModeBar": False},
               post_script="document.body.style.margin='0';document.body.style.padding='0';")
